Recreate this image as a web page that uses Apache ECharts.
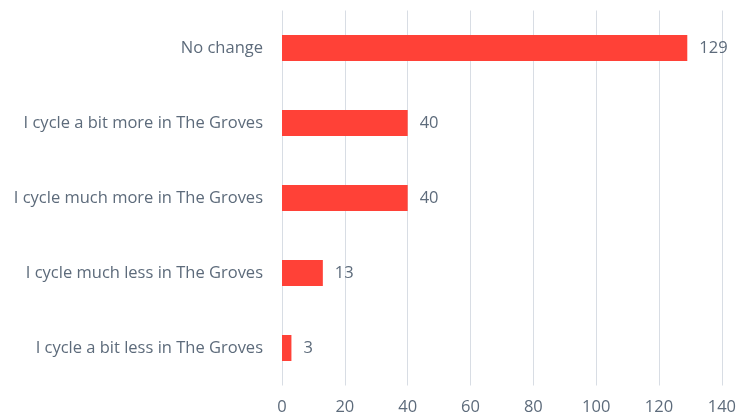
<!DOCTYPE html>
<html><head><meta charset="utf-8">
<script src="https://cdn.jsdelivr.net/npm/echarts@6/dist/echarts.min.js"></script>
<style>html,body{margin:0;padding:0;background:#fff}#c{width:739px;height:418px}</style>
</head><body><div id="c"></div>
<script>
const categories = ["I cycle a bit less in The Groves","I cycle much less in The Groves","I cycle much more in The Groves","I cycle a bit more in The Groves","No change"];
const values = [3, 13, 40, 40, 129];
const xTicks = [0, 20, 40, 60, 80, 100, 120, 140];
const chart = echarts.init(document.getElementById('c'));
chart.setOption({
  animation: false,
  grid: {left: 282, right: 16, top: 10.5, bottom: 32.5, containLabel: false},
  xAxis: {
    type: 'value', min: 0, max: 140, interval: 20,
    axisLine: {show: false}, axisTick: {show: false},
    splitLine: {lineStyle: {color: '#d8dde4', width: 1}},
    axisLabel: {color: '#5d6b7b', fontSize: 16.5, fontFamily: 'Open Sans', margin: 13,
      formatter: v => xTicks.includes(v) ? String(v) : ''}
  },
  yAxis: {
    type: 'category', data: categories,
    axisLine: {show: false}, axisTick: {show: false},
    axisLabel: {color: '#5d6b7b', fontSize: 16.5, fontFamily: 'Open Sans', margin: 19}
  },
  series: [{
    type: 'bar', data: values, barWidth: 26,
    itemStyle: {color: '#ff4137'},
    label: {show: true, position: 'right', distance: 12, color: '#5d6b7b', fontSize: 16.5, fontFamily: 'Open Sans'}
  }]
});
</script></body></html>
